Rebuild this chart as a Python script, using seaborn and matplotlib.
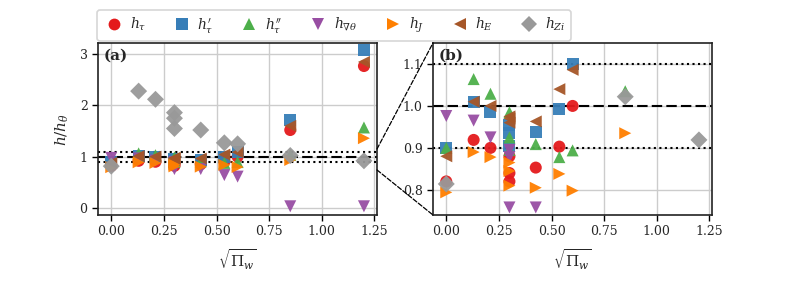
import matplotlib
matplotlib.use("Agg")
import matplotlib.pyplot as plt
from matplotlib.lines import Line2D
from matplotlib.patches import ConnectionPatch
import seaborn as sns
import pandas as pd

# ---- data ----
x_vals = [0.0, 0.13, 0.21, 0.30, 0.30, 0.30, 0.425, 0.537, 0.60, 0.85, 1.20]
h_tau = [0.82, 0.919, 0.90, 0.88, 0.84, 0.82, 0.853, 0.903, 1.0, 1.52, 2.77]
h_tau_p = [0.90, 1.01, 0.986, 0.955, 0.935, 0.905, 0.937, 0.993, 1.10, 1.71, 3.08]
h_tau_pp = [0.90, 1.064, 1.029, 0.985, 0.925, 0.895, 0.909, 0.878, 0.894, 1.035, 1.57]
h_grad = [0.976, 0.965, 0.925, 0.895, 0.878, 0.758, 0.758, 0.64, 0.61, 0.03, 0.03]
h_J = [0.794, 0.89, 0.878, 0.865, 0.845, 0.81, 0.805, 0.838, 0.798, 0.935, 1.36]
h_E = [0.88, 1.01, 1.0, 0.975, 0.97, 0.96, 0.963, 1.040, 1.086, 1.60, 2.85]
h_Zi = [0.814, 2.28, 2.12, 1.86, 1.75, 1.55, 1.52, 1.27, 1.25, 1.022, 0.919]

series_names = [r"$h_\tau$", r"$h_\tau'$", r"$h_\tau''$", r"$h_{\nabla\theta}$",
                r"$h_J$", r"$h_E$", r"$h_{Zi}$"]
series_vals = [h_tau, h_tau_p, h_tau_pp, h_grad, h_J, h_E, h_Zi]
colors = ["#e41a1c", "#377eb8", "#4daf4a", "#984ea3", "#ff7f00", "#a65628", "#999999"]
markers = ["o", "s", "^", "v", ">", "<", "D"]

rows = []
for name, vals in zip(series_names, series_vals):
    for xv, yv in zip(x_vals, vals):
        rows.append({"x": xv, "y": yv, "series": name})
df = pd.DataFrame(rows)

sns.set_style("ticks")
plt.rcParams["font.family"] = ["DejaVu Serif"]
plt.rcParams["mathtext.fontset"] = "dejavuserif"

fig = plt.figure(figsize=(7.91, 2.88), dpi=100)
axA = fig.add_axes([98 / 791, 1 - 215 / 288, 279 / 791, 172 / 288])
axB = fig.add_axes([433 / 791, 1 - 215 / 288, 279 / 791, 172 / 288])

pal = dict(zip(series_names, colors))
mk = dict(zip(series_names, markers))

for ax in (axA, axB):
    ax.grid(True, color="#cccccc", lw=1.0, zorder=0)
    ax.set_axisbelow(True)
    sns.scatterplot(data=df, x="x", y="y", hue="series", style="series",
                    palette=pal, markers=mk, hue_order=series_names,
                    style_order=series_names, s=75, linewidth=0, alpha=0.95,
                    legend=False, ax=ax, zorder=3)
    ax.axhline(1.0, color="black", ls=(0, (5, 2)), lw=1.5, zorder=2)
    ax.axhline(1.1, color="black", ls=":", lw=1.5, zorder=2)
    ax.axhline(0.9, color="black", ls=":", lw=1.5, zorder=2)
    ax.set_xlim(-0.063, 1.262)
    ax.set_xticks([0.0, 0.25, 0.5, 0.75, 1.0, 1.25])
    ax.set_xticklabels(["0.00", "0.25", "0.50", "0.75", "1.00", "1.25"])
    ax.set_xlabel(r"$\sqrt{\Pi_w}$", fontsize=11, labelpad=6)
    ax.tick_params(labelsize=9, length=4, width=1, color="black")
    for sp in ax.spines.values():
        sp.set_color("#222222")
        sp.set_linewidth(1.2)

axA.set_ylim(-0.14, 3.22)
axA.set_yticks([0, 1, 2, 3])
axA.set_ylabel(r"$h/h_\theta$", fontsize=11, labelpad=6)
axB.set_ylim(0.74, 1.15)
axB.set_yticks([0.8, 0.9, 1.0, 1.1])
axB.set_yticklabels(["0.8", "0.9", "1.0", "1.1"])
axB.set_ylabel("")

axA.text(0.02, 0.97, "(a)", transform=axA.transAxes, fontweight="bold",
         fontsize=11, va="top", ha="left")
axB.text(0.02, 0.97, "(b)", transform=axB.transAxes, fontweight="bold",
         fontsize=11, va="top", ha="left")

x_right = axA.get_xlim()[1]
for yA, yB in ((1.15, 1.0), (0.74, 0.0)):
    con = ConnectionPatch(xyA=(x_right, yA), coordsA=axA.transData,
                          xyB=(0, yB), coordsB=axB.transAxes,
                          color="black", ls="--", lw=0.9)
    fig.add_artist(con)

handles = [Line2D([], [], ls="", marker=m, color=c, markersize=8.5,
                  markeredgewidth=0) for m, c in zip(markers, colors)]
leg = fig.legend(handles, series_names, loc="upper left",
                 bbox_to_anchor=(97 / 791, 1 - 10 / 288), ncol=7,
                 fontsize=10, frameon=True, handletextpad=0.35,
                 columnspacing=1.75, borderpad=0.4, handlelength=1.6,
                 borderaxespad=0, fancybox=True)
leg.get_frame().set_edgecolor("#cccccc")
leg.get_frame().set_linewidth(1.2)

fig.savefig("out.png", dpi=100)
